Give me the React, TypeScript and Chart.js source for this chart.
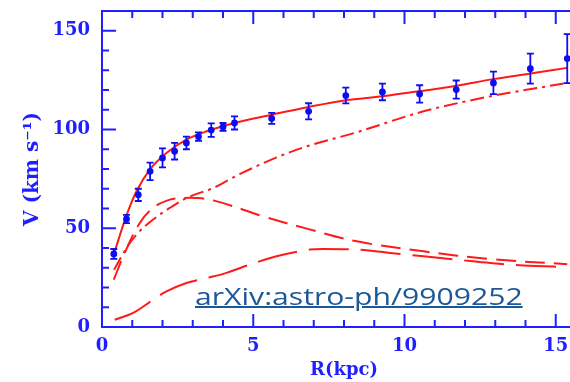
import React, { useEffect, useRef } from "react";
import { Chart, registerables } from "chart.js";

Chart.register(...registerables);

// Observed rotation curve
const obsR = [0.39, 0.81, 1.2, 1.59, 2.0, 2.4, 2.79, 3.19, 3.61, 4.0, 4.38, 5.61, 6.83, 8.06, 9.27, 10.5, 11.71, 12.94, 14.16, 15.38];
const obsV = [37, 54.7, 66.9, 78.8, 85.6, 89, 93.2, 96.4, 99.7, 101.3, 103.3, 105.6, 109.2, 117.2, 119, 118, 120.2, 123.6, 130.8, 135.9];
const obsErr = [2.5, 2.1, 3.1, 4.4, 4.8, 4.2, 3.2, 2.1, 3.4, 2.0, 3.3, 2.8, 4.1, 4.0, 4.2, 4.4, 4.6, 5.7, 7.6, 12.4];

// Model: total (solid)
const totalR = [0.37, 0.81, 1.14, 1.58, 2.13, 2.79, 3.46, 4.34, 5.61, 6.83, 8.06, 9.27, 10.5, 11.71, 12.94, 14.16, 15.38];
const totalV = [35.8, 56.5, 68.7, 79.7, 88.1, 94.9, 99.1, 103.2, 107.5, 111.4, 114.8, 116.8, 119.4, 122.2, 125.5, 128.3, 131.2];

// Model: halo (dash-dot)
const haloR = [0.4, 0.81, 1.14, 1.69, 2.24, 2.79, 3.68, 4.6, 6.44, 8.42, 10.63, 12.84, 15.38];
const haloV = [29, 40, 46.8, 54.4, 60.3, 65.3, 70.4, 77.8, 89.8, 98.6, 109.2, 116.8, 123.6];

// Model: stellar disk (dashed)
const diskR = [0.39, 0.75, 1.25, 1.69, 2.24, 2.68, 3.13, 3.68, 4.67, 5.33, 6.77, 8.42, 10.63, 12.85, 15.38];
const diskV = [24, 37.5, 52.7, 60.3, 64.5, 65.3, 65.3, 64.1, 59.4, 56, 49.8, 43.4, 38.3, 34.4, 31.8];

// Model: gas (long dashed)
const gasR = [0.42, 1.03, 1.69, 2.13, 2.79, 3.46, 4.12, 4.89, 5.77, 6.87, 7.32, 8.42, 9.53, 10.63, 11.74, 12.84, 13.94, 15.38];
const gasV = [3.7, 7.1, 13.8, 18, 22.3, 24.8, 27.4, 31.6, 35.8, 39.2, 39.5, 39.2, 37.5, 35.8, 34.1, 32.4, 31.1, 30.4];

const xLabelTicks = [0, 5, 10, 15];
const yLabelTicks = [0, 50, 100, 150];

const AXIS_BLUE = "#1f1fff";
const POINT_BLUE = "#0d0df0";
const RED = "#ff1a1a";
const CANVAS_W = 600;
const CANVAS_H = 382;

const toXY = (xs: number[], ys: number[]) => xs.map((x, i) => ({ x, y: ys[i] }));

const decorPlugin = {
  id: "decor",
  afterDatasetsDraw(chart: any) {
    const { ctx, chartArea: a, scales } = chart;
    const xs = scales.x;
    const ys = scales.y;
    ctx.save();
    // error bars
    ctx.strokeStyle = POINT_BLUE;
    ctx.lineWidth = 1.8;
    const cap = 3.5;
    obsR.forEach((r, i) => {
      const px = xs.getPixelForValue(r);
      const top = ys.getPixelForValue(obsV[i] + obsErr[i]);
      const bot = ys.getPixelForValue(obsV[i] - obsErr[i]);
      ctx.beginPath();
      ctx.moveTo(px, top);
      ctx.lineTo(px, bot);
      ctx.moveTo(px - cap, top);
      ctx.lineTo(px + cap, top);
      ctx.moveTo(px - cap, bot);
      ctx.lineTo(px + cap, bot);
      ctx.stroke();
    });
    // frame
    ctx.strokeStyle = AXIS_BLUE;
    ctx.lineWidth = 2;
    ctx.strokeRect(a.left, a.top, a.right - a.left, a.bottom - a.top);
    // inward ticks
    ctx.beginPath();
    xs.ticks.forEach((t: any) => {
      const px = xs.getPixelForValue(t.value);
      const len = t.value % 5 === 0 ? 13 : 7;
      ctx.moveTo(px, a.bottom);
      ctx.lineTo(px, a.bottom - len);
      ctx.moveTo(px, a.top);
      ctx.lineTo(px, a.top + len);
    });
    ys.ticks.forEach((t: any) => {
      const py = ys.getPixelForValue(t.value);
      const len = t.value % 50 === 0 ? 14 : 7;
      ctx.moveTo(a.left, py);
      ctx.lineTo(a.left + len, py);
      ctx.moveTo(a.right, py);
      ctx.lineTo(a.right - len, py);
    });
    ctx.stroke();
    ctx.restore();
  },
};

export default function App() {
  const ref = useRef<HTMLCanvasElement | null>(null);

  useEffect(() => {
    if (!ref.current) return;
    const tickFont = { family: "'DejaVu Serif', serif", size: 18, weight: "bold" as const };
    const titleFont = { family: "'DejaVu Serif', serif", size: 18, weight: "bold" as const, lineHeight: 1.2 };
    const yTitleFont = { family: "'DejaVu Serif', serif", size: 20, weight: "bold" as const, lineHeight: 1.2 };
    const chart = new Chart(ref.current, {
      type: "scatter",
      data: {
        datasets: [
          {
            label: "Observed",
            data: toXY(obsR, obsV),
            showLine: false,
            pointRadius: 3.4,
            pointBackgroundColor: POINT_BLUE,
            pointBorderWidth: 0,
          },
          {
            label: "Total",
            data: toXY(totalR, totalV),
            showLine: true,
            borderColor: RED,
            borderWidth: 2,
            pointRadius: 0,
            cubicInterpolationMode: "monotone",
          },
          {
            label: "Halo",
            data: toXY(haloR, haloV),
            showLine: true,
            borderColor: RED,
            borderWidth: 2,
            borderDash: [14, 5, 3, 5],
            pointRadius: 0,
            cubicInterpolationMode: "monotone",
          },
          {
            label: "Disk",
            data: toXY(diskR, diskV),
            showLine: true,
            borderColor: RED,
            borderWidth: 2,
            borderDash: [20, 9],
            pointRadius: 0,
            tension: 0.4,
          },
          {
            label: "Gas",
            data: toXY(gasR, gasV),
            showLine: true,
            borderColor: RED,
            borderWidth: 2,
            borderDash: [40, 12],
            pointRadius: 0,
            tension: 0.3,
          },
        ],
      } as any,
      options: {
        animation: false,
        responsive: false,
        maintainAspectRatio: false,
        layout: { padding: { left: 0, top: 11, right: CANVAS_W - 586, bottom: 0 } },
        plugins: { legend: { display: false }, tooltip: { enabled: false } },
        scales: {
          x: {
            type: "linear",
            min: 0,
            max: 16,
            grid: { display: false, drawTicks: false },
            border: { display: false },
            ticks: {
              stepSize: 1,
              autoSkip: false,
              maxRotation: 0,
              padding: 9,
              color: AXIS_BLUE,
              font: tickFont,
              callback: (v: any) => (xLabelTicks.includes(Number(v)) ? String(v) : ""),
            },
            title: {
              display: true,
              text: "R(kpc)",
              color: AXIS_BLUE,
              font: titleFont,
              padding: { top: 0, bottom: 1 },
            },
            afterFit: (s: any) => {
              s.height = 55;
              s.paddingLeft = 0;
              s.paddingRight = 0;
            },
          },
          y: {
            type: "linear",
            min: 0,
            max: 160,
            grid: { display: false, drawTicks: false },
            border: { display: false },
            ticks: {
              stepSize: 10,
              autoSkip: false,
              padding: 12,
              color: AXIS_BLUE,
              font: tickFont,
              callback: (v: any) => (yLabelTicks.includes(Number(v)) ? String(v) : ""),
            },
            title: {
              display: true,
              text: "V (km s\u207B\u00B9)",
              color: AXIS_BLUE,
              font: yTitleFont,
              padding: { top: 21, bottom: 0 },
            },
            afterFit: (s: any) => {
              s.width = 102;
              s.paddingTop = 0;
              s.paddingBottom = 0;
            },
          },
        },
      } as any,
      plugins: [decorPlugin],
    });
    return () => chart.destroy();
  }, []);

  return (
    <div
      style={{
        position: "fixed",
        left: 0,
        top: 0,
        width: 570,
        height: 382,
        overflow: "hidden",
        background: "#fff",
      }}
    >
      <canvas ref={ref} width={CANVAS_W} height={CANVAS_H} style={{ width: CANVAS_W, height: CANVAS_H, display: "block" }} />
      <span
        style={{
          position: "absolute",
          left: 195,
          top: 283,
          fontFamily: "'Open Sans', sans-serif",
          fontSize: "24.5px",
          lineHeight: "26px",
          color: "#1b5897",
          textDecoration: "underline",
          textDecorationThickness: "1.5px",
          whiteSpace: "nowrap",
          transform: "scaleX(1.23)",
          transformOrigin: "left top",
        }}
      >
        arXiv:astro-ph/9909252
      </span>
    </div>
  );
}
